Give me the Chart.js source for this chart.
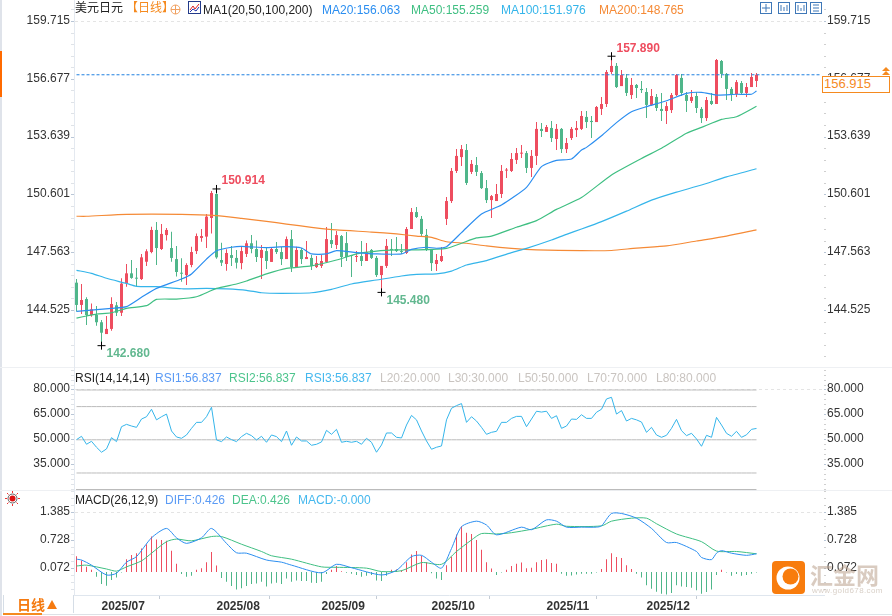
<!DOCTYPE html>
<html>
<head>
<meta charset="utf-8">
<script src="https://cdn.jsdelivr.net/npm/chart.js@4"></script>
<style>
  html, body { margin: 0; padding: 0; background: #fff; overflow: hidden; }
  body { width: 892px; height: 616px; position: relative; font: 12px "Liberation Sans", "Noto Sans CJK SC", sans-serif; color: #222; }
  canvas { position: absolute; left: 0; }
  .t { position: absolute; white-space: nowrap; line-height: 14px; }
  .box { position: absolute; }
</style>
</head>
<body>
<div class="box" style="left:0;top:0;width:2px;height:616px;background:#dfe3ea"></div>
<div class="box" style="left:0;top:51px;width:2px;height:46px;background:#ff6a00"></div>
<div class="box" style="left:0;top:367px;width:892px;height:1px;background:#eef0f3"></div>
<div class="box" style="left:0;top:490px;width:892px;height:1px;background:#eef0f3"></div>
<div class="box" style="left:76px;top:489px;width:680px;height:1px;background:#bbb"></div>

<canvas id="priceChart" width="892" height="368" style="top:0;width:892px;height:368px"></canvas>
<canvas id="rsiChart" width="892" height="124" style="top:368px;width:892px;height:124px"></canvas>
<canvas id="macdChart" width="892" height="126" style="top:490px;width:892px;height:126px"></canvas>

<span class="t" style="left:75px;top:1px">美元日元</span>
<span class="t" style="left:126px;top:1px;color:#f58a1f">【日线】</span>
<svg class="box" style="left:170px;top:4px" width="11" height="11"><circle cx="5.5" cy="5.5" r="4.5" fill="none" stroke="#f0a060"/><path d="M1 5.5H10M5.5 1V10" stroke="#f0a060"/></svg>
<svg class="box" style="left:188px;top:1px" width="13" height="13"><rect x=".5" y=".5" width="12" height="12" fill="#fff" stroke="#223a8a"/><path d="M2 9L5 5L7 8L11 3" stroke="#d22" fill="none"/><path d="M2 11L5 8L8 10L11 6" stroke="#23a" fill="none"/></svg>
<span class="t" style="left:203px;top:3px">MA1(20,50,100,200)</span>
<span class="t" style="left:322px;top:3px;color:#2b8ef0">MA20:156.063</span>
<span class="t" style="left:411px;top:3px;color:#3fbf82">MA50:155.259</span>
<span class="t" style="left:501px;top:3px;color:#35b5ea">MA100:151.976</span>
<span class="t" style="left:599px;top:3px;color:#f58a36">MA200:148.765</span>
<svg class="box" style="left:760px;top:2px" width="62" height="12" fill="none" stroke="#3f78b8">
  <rect x=".5" y=".5" width="11" height="11"/><path d="M6 2V10M2 6H10"/>
  <rect x="18.5" y=".5" width="11" height="11"/><path d="M21 3V9M24 5V9M27 3V9"/>
  <rect x="35.5" y=".5" width="11" height="11"/><path d="M38 3V9M41 6V9M44 3V9"/>
  <rect x="50.5" y=".5" width="11" height="11"/><path d="M53 3H59M53 6H59M53 9H59"/>
</svg>

<div class="box" style="left:822px;top:76px;width:66px;height:15px;background:#fff;border:1px solid #f58a1f"></div>
<span class="t" style="left:824px;top:77px;color:#f58a1f;font-size:13px">156.915</span>
<svg class="box" style="left:881px;top:67px" width="10" height="9"><path d="M5 0L9 4H1ZM5 4L9 8H1Z" fill="#f58a1f"/></svg>

<span class="t" style="left:75px;top:371px">RSI(14,14,14)</span>
<span class="t" style="left:155px;top:371px;color:#5b9bf5">RSI1:56.837</span>
<span class="t" style="left:229px;top:371px;color:#4cc48c">RSI2:56.837</span>
<span class="t" style="left:305px;top:371px;color:#45b8ee">RSI3:56.837</span>
<span class="t" style="left:380px;top:371px;color:#c9c4c0">L20:20.000</span>
<span class="t" style="left:448px;top:371px;color:#c9c4c0">L30:30.000</span>
<span class="t" style="left:518px;top:371px;color:#c9c4c0">L50:50.000</span>
<span class="t" style="left:587px;top:371px;color:#c9c4c0">L70:70.000</span>
<span class="t" style="left:656px;top:371px;color:#c9c4c0">L80:80.000</span>

<svg class="box" style="left:5px;top:491px" width="15" height="15"><circle cx="7.5" cy="7.5" r="3" fill="#d11"/><circle cx="7.5" cy="7.5" r="4.5" fill="none" stroke="#222" stroke-width=".7"/><path d="M7.5 0V2M7.5 13V15M0 7.5H2M13 7.5H15M2 2L3.5 3.5M11.5 11.5L13 13M13 2L11.5 3.5M2 13L3.5 11.5" stroke="#e33"/></svg>
<span class="t" style="left:75px;top:493px">MACD(26,12,9)</span>
<span class="t" style="left:165px;top:493px;color:#5b9bf5">DIFF:0.426</span>
<span class="t" style="left:232px;top:493px;color:#4cc48c">DEA:0.426</span>
<span class="t" style="left:298px;top:493px;color:#45b8ee">MACD:-0.000</span>

<div class="box" style="left:3px;top:595px;width:69px;height:18px;border-right:1px solid #d5dde6;border-left:1px solid #d5dde6"></div>
<div class="box" style="left:3px;top:613px;width:39px;height:2px;background:#f58a1f"></div>
<div class="box" style="left:42px;top:614px;width:850px;height:1px;background:#dde1e6"></div>
<span class="t" style="left:17px;top:598px;color:#f57a10;font-size:14px;font-weight:bold">日线</span>
<svg class="box" style="left:47px;top:600px" width="10" height="9"><path d="M5 0L10 9H0Z" fill="#f57a10"/></svg>

<svg class="box" style="left:772px;top:561px" width="33" height="33"><rect width="33" height="33" rx="4" fill="#f87c0d"/><circle cx="16" cy="17" r="11.5" fill="#fff"/><circle cx="18.5" cy="15.5" r="8" fill="#f87c0d"/></svg>
<span class="t" style="left:810px;top:564px;color:rgba(185,160,140,.55);font-size:23px;line-height:24px;font-weight:bold">汇金网</span>
<span class="t" style="left:812px;top:586px;color:rgba(190,175,160,.6);font-size:8px;line-height:10px;letter-spacing:.4px">www.gold678.com</span>

<script>
// trading days, Jun 24 2025 onward; the slots past the last candle keep the right side empty
const dates = [];
for (let d = new Date(Date.UTC(2025, 5, 24)); dates.length < 150; d.setUTCDate(d.getUTCDate() + 1)) {
  if (d.getUTCDay() !== 0 && d.getUTCDay() !== 6) dates.push(d.toISOString().slice(0, 10));
}
const monthIndex = [5, 28, 49, 71, 94, 114];

const opens = [145.99,144.82,145.13,144.29,144.29,143.91,143.29,143.56,144.80,144.41,
  145.95,146.48,146.24,146.18,147.09,147.60,148.76,147.76,148.49,147.81,
  147.23,146.48,146.39,146.92,147.65,148.34,148.41,149.39,150.65,147.18,
  146.97,147.44,147.29,147.02,147.50,148.06,147.76,147.29,147.65,147.08,
  147.76,147.60,147.23,148.28,146.81,147.71,147.23,147.29,146.81,146.87,
  147.08,148.23,147.97,148.44,148.07,147.44,147.34,147.39,147.13,147.71,
  147.29,146.39,146.87,147.76,147.76,147.65,147.55,148.81,149.70,149.34,
  148.50,147.76,146.97,147.13,149.34,150.28,151.86,152.59,152.96,151.81,
  152.17,151.75,150.96,150.33,150.28,150.65,151.88,151.86,152.44,152.77,
  152.80,152.02,152.65,154.07,153.91,154.12,153.54,154.07,153.01,153.59,
  154.01,154.07,154.70,154.49,154.43,155.12,155.38,157.06,157.38,156.32,
  156.75,155.85,156.38,156.17,156.01,155.33,155.75,155.12,155.01,155.06,
  155.85,156.75,155.85,155.54,155.80,155.12,154.64,155.54,155.38,157.64,
  156.96,156.17,155.90,156.48,155.96,156.27,156.59];
const closes = [144.82,145.08,144.29,144.59,143.91,143.36,143.56,144.87,144.41,145.94,
  146.48,146.24,146.20,147.32,147.64,148.76,147.81,148.55,148.76,147.29,
  146.55,146.46,146.92,147.60,148.44,148.44,149.46,150.70,147.32,147.04,
  147.55,147.29,147.04,147.65,148.06,147.76,147.34,147.71,147.13,147.76,
  147.60,147.23,148.28,146.81,147.71,147.23,147.34,146.87,147.02,147.13,
  148.28,148.02,148.49,147.34,147.34,147.39,147.39,147.13,147.60,147.29,
  146.39,146.87,147.92,147.71,147.65,147.60,148.81,149.70,149.44,148.55,
  147.71,147.02,147.18,147.39,150.28,151.86,152.65,153.01,151.23,152.23,
  151.81,150.96,150.33,150.54,150.65,151.86,151.91,152.49,152.80,152.80,
  152.02,152.65,154.07,153.96,154.17,153.59,154.07,153.01,153.33,154.07,
  154.12,154.75,154.43,154.43,155.22,155.38,157.06,157.38,156.27,156.90,
  155.96,156.38,156.22,156.11,155.33,155.80,155.17,155.01,155.27,155.85,
  156.90,155.96,155.54,155.75,155.17,154.64,155.59,155.38,157.69,156.96,
  156.17,155.90,156.53,155.96,156.27,156.80,156.915];
const highs = [146.18,145.92,145.22,144.90,144.76,144.03,144.24,145.22,144.97,146.22,
  146.97,147.18,146.76,147.50,147.74,148.93,149.18,149.07,148.86,148.67,
  147.92,147.27,147.01,147.88,148.58,148.81,149.60,150.81,150.914,148.09,
  147.74,147.92,147.71,147.92,148.20,148.49,148.20,147.97,147.85,147.86,
  148.13,147.86,148.41,148.76,147.88,147.81,148.18,147.44,147.39,147.44,
  148.92,149.13,148.70,148.49,148.65,147.44,147.65,148.18,148.07,147.76,
  147.39,146.87,148.28,148.28,148.39,148.02,148.92,149.91,149.97,149.49,
  148.81,147.76,147.50,147.86,150.49,152.02,153.01,153.22,153.28,152.44,
  152.59,151.86,151.39,150.60,151.18,152.17,152.02,152.80,153.07,153.22,
  152.91,152.96,154.43,154.38,154.28,154.49,154.33,154.12,153.59,154.17,
  154.49,155.01,155.01,154.75,155.27,155.75,157.17,157.89,157.53,157.17,
  156.96,156.75,156.43,156.59,156.22,156.17,155.90,155.96,155.48,155.96,
  156.96,156.96,156.01,156.11,156.01,155.22,155.75,155.96,157.74,157.69,
  157.01,156.27,156.64,156.59,156.48,157.01,157.01];
const lows = [144.47,144.34,143.77,144.20,143.73,142.68,143.29,143.47,144.24,144.24,
  145.78,146.20,145.78,146.13,146.87,147.53,146.92,147.71,148.20,147.09,
  146.31,146.04,145.87,146.80,147.50,148.14,147.81,148.58,147.25,146.87,
  146.62,146.87,146.73,146.69,147.34,147.53,147.08,146.18,146.71,147.08,
  147.50,146.92,147.23,146.55,146.76,146.97,147.23,146.66,146.76,146.76,
  147.02,147.81,147.76,146.81,147.13,146.29,147.08,146.87,147.13,147.23,
  146.29,145.48,146.76,147.39,147.60,147.50,147.50,148.81,149.39,148.44,
  147.65,146.60,146.60,147.08,149.02,150.18,151.75,152.12,151.12,151.70,
  151.60,150.91,150.18,149.39,150.28,150.44,151.49,151.81,152.23,152.54,
  151.75,151.54,152.17,153.65,153.91,153.38,152.96,152.80,152.80,153.49,
  153.65,154.01,154.12,153.59,154.43,154.80,155.22,156.96,156.22,156.32,
  155.80,155.64,155.69,155.96,154.64,155.27,155.01,154.49,154.33,154.91,
  155.80,155.80,154.96,155.43,154.91,154.38,154.49,155.33,155.38,156.75,
  155.59,155.54,155.75,155.90,155.75,156.27,156.27];

const lastPrice = 156.915;
const extremeIndex = [107, 28, 5, 61];
const extremeValue = [157.89, 150.914, 142.68, 145.48];
const extremeText = ["157.890", "150.914", "142.680", "145.480"];

const ma20Index = [0,7,10,13,16,21,23,26,28,31,33,38,42,45,47,50,52,56,60,65,67,70,72,74,77,81,85,90,93,96,99,101,102,105,108,111,114,118,122,125,128,132,135,136];
const ma20 = [144.48,144.64,144.73,145.22,145.69,146.18,146.45,147.23,147.67,147.85,147.90,147.83,147.88,147.81,147.50,147.50,147.67,147.57,147.50,147.50,147.74,147.85,147.80,147.88,148.62,149.60,150.07,151.00,152.09,152.42,152.49,152.96,153.10,153.71,154.40,154.97,155.24,155.55,155.94,155.99,155.85,155.89,155.89,156.063];
const ma50Index = [0,2,4,7,10,14,16,20,24,28,32,34,38,42,47,52,56,60,64,68,74,77,80,83,88,92,96,101,107,113,117,122,125,129,132,136];
const ma50 = [144.13,144.24,144.34,144.41,144.64,144.78,145.11,145.13,145.25,145.69,145.92,146.08,146.45,146.74,146.87,147.18,147.50,147.65,147.71,147.71,147.79,148.06,148.34,148.44,148.90,149.25,149.84,150.46,151.65,152.52,153.05,153.84,154.15,154.57,154.71,155.259];
const ma100Index = [0,3,6,10,12,16,21,26,30,34,37,41,47,51,55,60,65,68,72,75,78,82,87,90,95,98,101,105,110,115,120,125,130,136];
const ma100 = [146.64,146.48,146.22,145.95,145.80,145.78,145.67,145.69,145.66,145.59,145.46,145.43,145.46,145.64,145.92,146.13,146.34,146.43,146.45,146.60,146.92,147.15,147.57,147.79,148.23,148.53,148.81,149.20,149.75,150.33,150.75,151.12,151.55,151.976];
const ma200Index = [0,2,10,21,28,33,38,42,47,52,59,64,68,71,74,78,82,87,92,101,107,112,118,124,130,136];
const ma200 = [149.48,149.48,149.58,149.58,149.51,149.37,149.21,149.07,148.90,148.76,148.65,148.55,148.44,148.37,148.14,148.06,147.92,147.79,147.71,147.67,147.68,147.81,147.92,148.18,148.44,148.765];

const priceTicks = [159.715, 156.677, 153.639, 150.601, 147.563, 144.525];
const priceMin = 141.506, priceMax = 160.844;

const rsiLevels = [80, 70, 50, 30, 20];
const rsiTicks = [80, 65, 50, 35];
const rsiMin = 18.55, rsiMax = 93.25;
const rsi = [50.1,52.1,47.3,49.1,45.5,42.5,44.5,51.3,48.9,57.9,59.3,58.3,57.5,62.5,63.9,68.4,62.0,63.9,65.5,55.3,
  51.7,50.9,52.9,56.9,60.5,60.5,63.9,69.6,49.9,48.9,51.7,50.1,48.9,51.9,53.9,52.5,49.9,52.1,48.5,52.9,
  51.9,48.9,55.3,46.7,51.7,49.3,49.3,46.7,47.3,48.7,55.7,53.3,56.3,48.5,49.1,48.5,49.1,47.3,50.9,48.5,
  42.5,46.9,54.1,54.1,51.5,51.1,58.9,64.7,62.0,55.3,49.3,44.3,45.5,46.3,62.0,69.0,70.6,71.8,60.5,63.9,
  61.3,57.5,53.3,54.5,55.1,60.5,60.5,62.9,64.1,64.1,57.9,62.5,67.2,66.7,67.2,62.9,64.5,56.9,58.3,62.5,
  62.3,65.1,62.9,62.9,66.6,68.4,74.6,75.6,65.5,67.6,61.3,62.9,62.0,60.7,54.5,57.5,52.9,51.5,52.7,56.9,
  62.3,55.5,52.5,53.9,50.5,46.1,52.7,51.5,63.5,58.9,53.9,52.1,55.1,51.5,53.0,56.3,56.84];

const macdTicks = [1.385, 0.728, 0.072];
const macdMin = -0.539, macdMax = 1.92;
const macdBars = [.37,.27,.12,.05,-.11,-.28,-.32,-.19,-.13,-.01,.30,.40,.44,.55,.65,.83,.76,.75,.73,.50,
  .19,-.05,-.11,-.09,.05,.09,.23,.47,.15,-.14,-.23,-.33,-.41,-.38,-.33,-.28,-.27,-.23,-.34,-.27,
  -.25,-.28,-.15,-.23,-.20,-.21,-.21,-.25,-.26,-.23,-.05,.05,.14,.02,-.02,-.04,-.07,-.11,-.09,-.07,
  -.20,-.21,-.09,.05,.06,.04,.23,.41,.49,.38,.23,-.03,-.15,-.19,.16,.36,.88,1.07,.92,.89,
  .75,.52,.23,.08,-.07,-.01,.05,.14,.19,.22,.09,.10,.23,.28,.30,.21,.19,-.04,-.09,-.08,
  -.06,-.04,-.04,-.04,-.01,.07,.30,.44,.35,.33,.16,.07,-.04,-.13,-.31,-.39,-.46,-.51,-.53,-.49,
  -.31,-.34,-.35,-.37,-.43,-.51,-.47,-.41,-.07,.05,-.01,-.09,-.05,-.09,-.07,-.04,-.01];
const diffIndex = [0,1,3,6,8,10,12,15,18,20,22,25,27,30,32,34,38,41,43,49,52,55,61,64,67,69,71,73,75,77,80,82,84,89,91,94,96,98,101,104,105,107,109,112,115,118,120,124,125,127,128,129,131,134,136];
const diff = [.30,.28,.16,-.07,-.03,.23,.36,.80,1.02,.80,.67,.80,1.02,.67,.45,.44,.28,.23,.16,-.02,.18,.10,-.07,.04,.36,.39,.23,.09,.55,1.06,1.19,1.10,.87,1.05,.99,1.22,1.19,1.05,1.05,1.05,1.08,1.37,1.37,1.26,1.02,.69,.69,.48,.34,.29,.44,.50,.44,.39,.426];
const deaIndex = [0,2,6,8,10,13,15,18,20,23,27,29,33,37,39,43,49,52,58,61,65,69,73,76,79,81,84,87,91,96,98,105,107,111,114,116,120,125,128,132,136];
const dea = [.14,.16,.07,.02,.12,.26,.44,.71,.77,.73,.83,.83,.65,.48,.38,.30,.12,.11,.09,.01,.03,.22,.18,.48,.75,.90,.89,.92,1.00,1.12,1.07,1.08,1.19,1.26,1.26,1.13,.89,.71,.49,.48,.426];

const RED = "#ee4d5f", GREEN = "#4fb68a", BLUE = "#2b8ef0", MA_GREEN = "#3fbf82", CYAN = "#35b5ea", ORANGE = "#f58a36";
const FONT = { family: "'Liberation Sans', sans-serif", size: 12 };
const LEFT_W = 74, RIGHT_W = 68;

Chart.defaults.animation = false;
Chart.defaults.responsive = false;
Chart.defaults.devicePixelRatio = 1;

const sparse = (idx, vals) => idx.map((i, k) => ({ x: dates[i], y: vals[k] }));

// majors carry the labels, the rest only draw the small axis marks
function axisTicks(majors, sub, min, max) {
  const list = majors.map((v) => ({ value: v, major: true }));
  const step = Math.abs(majors[1] - majors[0]) / sub;
  for (let v = majors[0] + step * sub * 2; v > min; v -= step) {
    if (v < max && !majors.some((m) => Math.abs(m - v) < step / 2)) list.push({ value: v, major: false });
  }
  return list.sort((a, b) => b.value - a.value);
}

function yAxes(majors, sub, min, max, decimals, dashedAt) {
  const label = (v, i, t) => (t[i].major ? v.toFixed(decimals) : "");
  const base = (width) => ({
    min, max,
    afterBuildTicks: (s) => { s.ticks = axisTicks(majors, sub, min, max); },
    afterFit: (s) => { s.width = width; s.paddingTop = 0; s.paddingBottom = 0; },
  });
  return {
    y: { ...base(LEFT_W), position: "left",
      border: { color: "#e4e9f0", dash: [3, 3] },
      grid: { tickLength: 3, tickColor: (c) => (c.tick && c.tick.major ? "#b9c6d6" : "#dfe3e8"),
        color: (c) => (c.tick && c.tick.value === dashedAt ? "#e4e4e4" : "transparent") },
      ticks: { autoSkip: false, font: FONT, color: "#333", padding: 1, labelOffset: -1, callback: label } },
    yRight: { ...base(RIGHT_W), position: "right",
      border: { display: false },
      grid: { drawOnChartArea: false, tickLength: 2, tickColor: (c) => (c.tick && c.tick.major ? "#b9c6d6" : "#cfcfcf") },
      ticks: { autoSkip: false, font: FONT, color: "#333", padding: 1, labelOffset: -1, callback: label } },
  };
}

const hiddenX = { type: "category", display: false, offset: true };
const baseOptions = {
  layout: { padding: 0, autoPadding: false },
  plugins: { legend: { display: false }, tooltip: { enabled: false } },
  elements: { point: { radius: 0 }, line: { borderWidth: 1.2 } },
  events: [],
};

const extremeLabels = {
  id: "extremeLabels",
  afterDatasetsDraw(chart) {
    const { ctx, scales } = chart;
    ctx.save();
    ctx.font = "bold 12px 'Liberation Sans', sans-serif";
    ctx.textBaseline = "middle";
    extremeText.forEach((text, k) => {
      const up = k < 2;
      ctx.fillStyle = up ? RED : "#62b890";
      ctx.fillText(text, scales.x.getPixelForValue(extremeIndex[k]) + 5,
        scales.y.getPixelForValue(extremeValue[k]) + (up ? -8 : 8));
    });
    ctx.restore();
  },
};

const maLine = (idx, vals, color) => ({ type: "line", data: sparse(idx, vals), borderColor: color, order: 1, tension: 0.2 });

new Chart(document.getElementById("priceChart"), {
  type: "bar",
  data: {
    labels: dates,
    datasets: [
      { type: "line", data: dates.map((d) => ({ x: d, y: lastPrice })), borderColor: "#1e7fe0", borderWidth: 1, borderDash: [3, 2], order: 0 },
      { type: "line", data: sparse(extremeIndex, extremeValue), showLine: false, pointRadius: 4, pointStyle: "cross", pointBorderColor: "#000", pointBorderWidth: 1, order: -1 },
      maLine(ma20Index, ma20, BLUE),
      maLine(ma50Index, ma50, MA_GREEN),
      maLine(ma100Index, ma100, CYAN),
      maLine(ma200Index, ma200, ORANGE),
      { data: opens.map((o, i) => [o, closes[i]]), grouped: false, barThickness: 3, minBarLength: 1, inflateAmount: 0, order: 2,
        backgroundColor: opens.map((o, i) => (closes[i] >= o ? RED : GREEN)) },
      { data: lows.map((l, i) => [l, highs[i]]), grouped: false, barThickness: 1, inflateAmount: 0, order: 3,
        backgroundColor: opens.map((o, i) => (closes[i] >= o ? RED : GREEN)) },
    ],
  },
  options: { ...baseOptions, scales: { x: hiddenX, ...yAxes(priceTicks, 5, priceMin, priceMax, 3, priceTicks[0]) } },
  plugins: [extremeLabels],
});

new Chart(document.getElementById("rsiChart"), {
  type: "line",
  data: {
    labels: dates,
    datasets: [
      { data: rsi, borderColor: CYAN, borderWidth: 1, order: 0 },
      ...rsiLevels.map((lv) => ({ data: rsi.map(() => lv), borderColor: "#bbb", borderWidth: 1, order: 1 })),
    ],
  },
  options: { ...baseOptions, scales: { x: hiddenX, ...yAxes(rsiTicks, 5, rsiMin, rsiMax, 3, rsiTicks[0]) } },
});

new Chart(document.getElementById("macdChart"), {
  type: "bar",
  data: {
    labels: dates,
    datasets: [
      { type: "line", data: sparse(diffIndex, diff), borderColor: BLUE, borderWidth: 1, tension: 0.25, order: 0 },
      { type: "line", data: sparse(deaIndex, dea), borderColor: MA_GREEN, borderWidth: 1, tension: 0.25, order: 1 },
      { data: macdBars, barThickness: 1, inflateAmount: 0, order: 2, backgroundColor: macdBars.map((v) => (v >= 0 ? RED : GREEN)) },
    ],
  },
  options: {
    ...baseOptions,
    scales: {
      x: {
        type: "category", offset: true, position: "bottom",
        afterBuildTicks: (s) => { s.ticks = monthIndex.map((i) => ({ value: i })); },
        afterFit: (s) => { s.height = 21; s.paddingLeft = 0; s.paddingRight = 0; },
        border: { color: "#dfe6ee" },
        grid: { drawOnChartArea: false, tickLength: 4, tickColor: "#c5ccd5" },
        ticks: { autoSkip: false, maxRotation: 0, align: "start", padding: 0, color: "#333",
          font: { ...FONT, weight: "bold" }, callback: (v) => dates[v].slice(0, 7).replace("-", "/") },
      },
      ...yAxes(macdTicks, 4, macdMin, macdMax, 3, macdTicks[0]),
    },
  },
});
</script>
</body>
</html>
